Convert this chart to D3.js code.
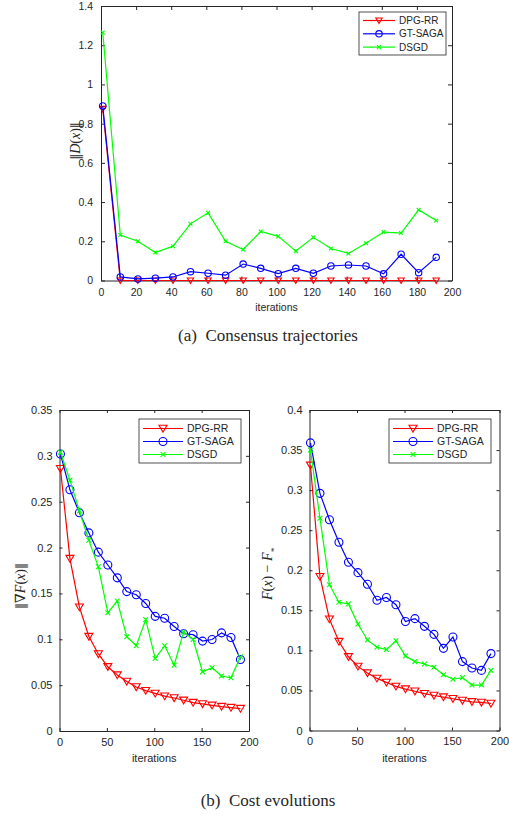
<!DOCTYPE html>
<html>
<head>
<meta charset="utf-8">
<script src="https://cdn.jsdelivr.net/npm/d3@7"></script>
<style>
  body { margin: 0; background: #fff; }
  svg { display: block; }
  text { font-family: "Liberation Sans", Arial, sans-serif; fill: #262626; }
</style>
</head>
<body>
<svg id="canvas" width="509" height="816"></svg>
<script>
// iteration numbers where markers are drawn
let iters = [1, 11, 21, 31, 41, 51, 61, 71, 81, 91, 101, 111, 121, 131, 141, 151, 161, 171, 181, 191];
let names = ["DPG-RR", "GT-SAGA", "DSGD"];
let colors = ["#ff0000", "#0000ff", "#00ff00"];

// (a) consensus ||D(x)||
let consDPG  = [0.875, 0, 0, 0, 0, 0, 0, 0, 0, 0, 0, 0, 0, 0, 0, 0, 0, 0, 0, 0];
let consGT   = [0.89, 0.018, 0.008, 0.012, 0.018, 0.045, 0.037, 0.027, 0.084, 0.062, 0.035, 0.062, 0.037, 0.074, 0.079, 0.074, 0.034, 0.134, 0.04, 0.118];
let consDSGD = [1.265, 0.232, 0.2, 0.143, 0.175, 0.289, 0.345, 0.2, 0.158, 0.25, 0.225, 0.15, 0.22, 0.163, 0.138, 0.19, 0.247, 0.242, 0.36, 0.306];

// (b) left ||grad F(x)||
let gradDPG  = [0.286, 0.188, 0.135, 0.103, 0.084, 0.070, 0.061, 0.054, 0.048, 0.044, 0.041, 0.038, 0.036, 0.0335, 0.031, 0.0295, 0.028, 0.0266, 0.0255, 0.0244];
let gradGT   = [0.302, 0.263, 0.238, 0.216, 0.195, 0.181, 0.167, 0.152, 0.1486, 0.139, 0.125, 0.123, 0.114, 0.106, 0.105, 0.098, 0.0998, 0.107, 0.102, 0.078];
let gradDSGD = [0.304, 0.2735, 0.24, 0.208, 0.179, 0.129, 0.1417, 0.1027, 0.093, 0.1216, 0.079, 0.093, 0.0717, 0.108, 0.0998, 0.0645, 0.069, 0.060, 0.058, 0.081];

// (b) right F(x) - F*
let costDPG  = [0.331, 0.192, 0.139, 0.111, 0.092, 0.080, 0.0717, 0.065, 0.060, 0.055, 0.0517, 0.049, 0.046, 0.0437, 0.0417, 0.0396, 0.0375, 0.0358, 0.035, 0.0337];
let costGT   = [0.359, 0.296, 0.263, 0.235, 0.21, 0.197, 0.1825, 0.1625, 0.166, 0.157, 0.136, 0.1396, 0.13, 0.12, 0.1025, 0.1167, 0.086, 0.078, 0.075, 0.096];
let costDSGD = [0.35, 0.265, 0.182, 0.16, 0.158, 0.133, 0.113, 0.104, 0.101, 0.112, 0.093, 0.086, 0.083, 0.079, 0.0696, 0.064, 0.066, 0.0567, 0.0567, 0.075];

let xTicksTop = [0, 20, 40, 60, 80, 100, 120, 140, 160, 180, 200];
let yTicksTop = [0, 0.2, 0.4, 0.6, 0.8, 1, 1.2, 1.4];
let xTicksBot = [0, 50, 100, 150, 200];
let yTicksGrad = [0, 0.05, 0.1, 0.15, 0.2, 0.25, 0.3, 0.35];
let yTicksCost = [0, 0.05, 0.1, 0.15, 0.2, 0.25, 0.3, 0.35, 0.4];

let canvas = d3.select('#canvas');
let axisCol = '#262626';
let fmt = d => String(+d.toFixed(2));

// one marker of the given kind centred on 0,0
let marker = (g, kind, col, s) => {
    if (kind === 0) {
        g.append('path').attr('d', `M${-s},${-s * 0.8}L${s},${-s * 0.8}L0,${s * 0.9}Z`)
            .attr('fill', 'none').attr('stroke', col).attr('stroke-width', 1.1);
    } else if (kind === 1) {
        g.append('circle').attr('r', s).attr('fill', 'none').attr('stroke', col).attr('stroke-width', 1.1);
    } else {
        let c = s * 0.6;
        g.append('path').attr('d', `M${-c},${-c}L${c},${c}M${-c},${c}L${c},${-c}`)
            .attr('stroke', col).attr('stroke-width', 1.1);
    }
};

let drawPanel = (p) => {
    let x = d3.scaleLinear().domain([0, 200]).range([p.x0, p.x1]);
    let y = d3.scaleLinear().domain([0, p.ymax]).range([p.y1, p.y0]);
    let g = canvas.append('g');

    // axes, ticks inward on all four sides
    g.append('g').attr('transform', `translate(0,${p.y1})`)
        .call(d3.axisBottom(x).tickValues(p.xticks).tickSizeInner(-p.tick).tickSizeOuter(0).tickPadding(p.tick + 4).tickFormat(fmt));
    g.append('g').attr('transform', `translate(0,${p.y0})`)
        .call(d3.axisTop(x).tickValues(p.xticks).tickSizeInner(-p.tick).tickSizeOuter(0).tickFormat(''));
    g.append('g').attr('transform', `translate(${p.x0},0)`)
        .call(d3.axisLeft(y).tickValues(p.yticks).tickSizeInner(-p.tick).tickSizeOuter(0).tickPadding(p.tick + 4).tickFormat(fmt));
    g.append('g').attr('transform', `translate(${p.x1},0)`)
        .call(d3.axisRight(y).tickValues(p.yticks).tickSizeInner(-p.tick).tickSizeOuter(0).tickFormat(''));
    g.selectAll('.domain').attr('stroke', axisCol);
    g.selectAll('.tick line').attr('stroke', axisCol);
    g.selectAll('.tick text').attr('fill', axisCol).style('font-size', p.fs + 'px')
        .style('font-family', '"Liberation Sans", Arial, sans-serif');

    // series
    p.series.forEach((vals, i) => {
        let pts = vals.map((v, k) => [x(iters[k]), y(v)]);
        g.append('path').attr('d', d3.line()(pts)).attr('fill', 'none')
            .attr('stroke', colors[i]).attr('stroke-width', 1.2);
        pts.forEach(pt => marker(g.append('g').attr('transform', `translate(${pt[0]},${pt[1]})`), i, colors[i], p.ms));
    });

    // legend
    let L = p.legend;
    g.append('rect').attr('x', L.x).attr('y', L.y).attr('width', L.w).attr('height', L.h)
        .attr('fill', '#fff').attr('stroke', axisCol).attr('stroke-width', 0.8);
    names.forEach((n, i) => {
        let ry = L.y + L.row0 + i * L.dy;
        g.append('line').attr('x1', L.x + 4).attr('x2', L.x + 4 + L.len).attr('y1', ry).attr('y2', ry)
            .attr('stroke', colors[i]).attr('stroke-width', 1.2);
        marker(g.append('g').attr('transform', `translate(${L.x + 4 + L.len / 2},${ry})`), i, colors[i], p.ms);
        g.append('text').attr('x', L.x + 8 + L.len).attr('y', ry + L.fs * 0.36)
            .style('font-size', L.fs + 'px').text(n);
    });

    // x label
    g.append('text').attr('x', (p.x0 + p.x1) / 2).attr('y', p.xlabY).attr('text-anchor', 'middle')
        .style('font-size', p.fs + 'px').text('iterations');

    // y label (math font); norm bars from DejaVu so they show as double bars
    let yl = g.append('text').attr('transform', `translate(${p.ylabX},${p.ylabY}) rotate(-90)`)
        .attr('text-anchor', 'middle').style('font-family', '"Liberation Serif", "DejaVu Serif", serif')
        .style('font-size', '14px').attr('fill', '#555');
    p.ylab.forEach(part => {
        let t = yl.append('tspan').attr('font-style', part[1] ? 'italic' : 'normal')
            .attr('baseline-shift', part[2] || null).style('font-size', part[2] ? '9px' : null).text(part[0]);
        if (part[0].includes('\u2016')) t.style('font-family', '"DejaVu Serif", serif').style('font-size', '12px');
    });
};

drawPanel({
    x0: 101, x1: 452, y0: 6, y1: 280.5, ymax: 1.4, tick: 4, fs: 10.5, ms: 3.2,
    xticks: xTicksTop, yticks: yTicksTop,
    series: [consDPG, consGT, consDSGD],
    legend: { x: 359, y: 12, w: 87, h: 43, row0: 8.5, dy: 13.3, len: 32, fs: 10 },
    xlabY: 311, ylabX: 80, ylabY: 141,
    ylab: [['\u2016', false], ['D', true], ['(', false], ['x', true], [')', false], ['\u2016', false]]
});

drawPanel({
    x0: 59.5, x1: 249, y0: 410, y1: 731, ymax: 0.35, tick: 3, fs: 11, ms: 4,
    xticks: xTicksBot, yticks: yTicksGrad,
    series: [gradDPG, gradGT, gradDSGD],
    legend: { x: 139, y: 419, w: 102, h: 44, row0: 9.5, dy: 13, len: 40, fs: 10.5 },
    xlabY: 762, ylabX: 25, ylabY: 586,
    ylab: [['\u2016', false], ['\u2207', false], ['F', true], ['(', false], ['x', true], [')', false], ['\u2016', false]]
});

drawPanel({
    x0: 309.5, x1: 499.5, y0: 410, y1: 730.5, ymax: 0.4, tick: 3, fs: 11, ms: 4,
    xticks: xTicksBot, yticks: yTicksCost,
    series: [costDPG, costGT, costDSGD],
    legend: { x: 389, y: 419, w: 102, h: 44, row0: 9.5, dy: 13, len: 40, fs: 10.5 },
    xlabY: 762, ylabX: 272, ylabY: 574,
    ylab: [['F', true], ['(', false], ['x', true], [') \u2212 ', false], ['F', true], ['*', true, 'sub']]
});

// captions
canvas.append('text').attr('x', 268).attr('y', 341).attr('text-anchor', 'middle')
    .style('font-family', '"Liberation Serif", "Times New Roman", serif').style('font-size', '17px')
    .attr('fill', '#000').text('(a)\u2002Consensus trajectories');
canvas.append('text').attr('x', 268).attr('y', 806).attr('text-anchor', 'middle')
    .style('font-family', '"Liberation Serif", "Times New Roman", serif').style('font-size', '17px')
    .attr('fill', '#000').text('(b)\u2002Cost evolutions');
</script>
</body>
</html>
